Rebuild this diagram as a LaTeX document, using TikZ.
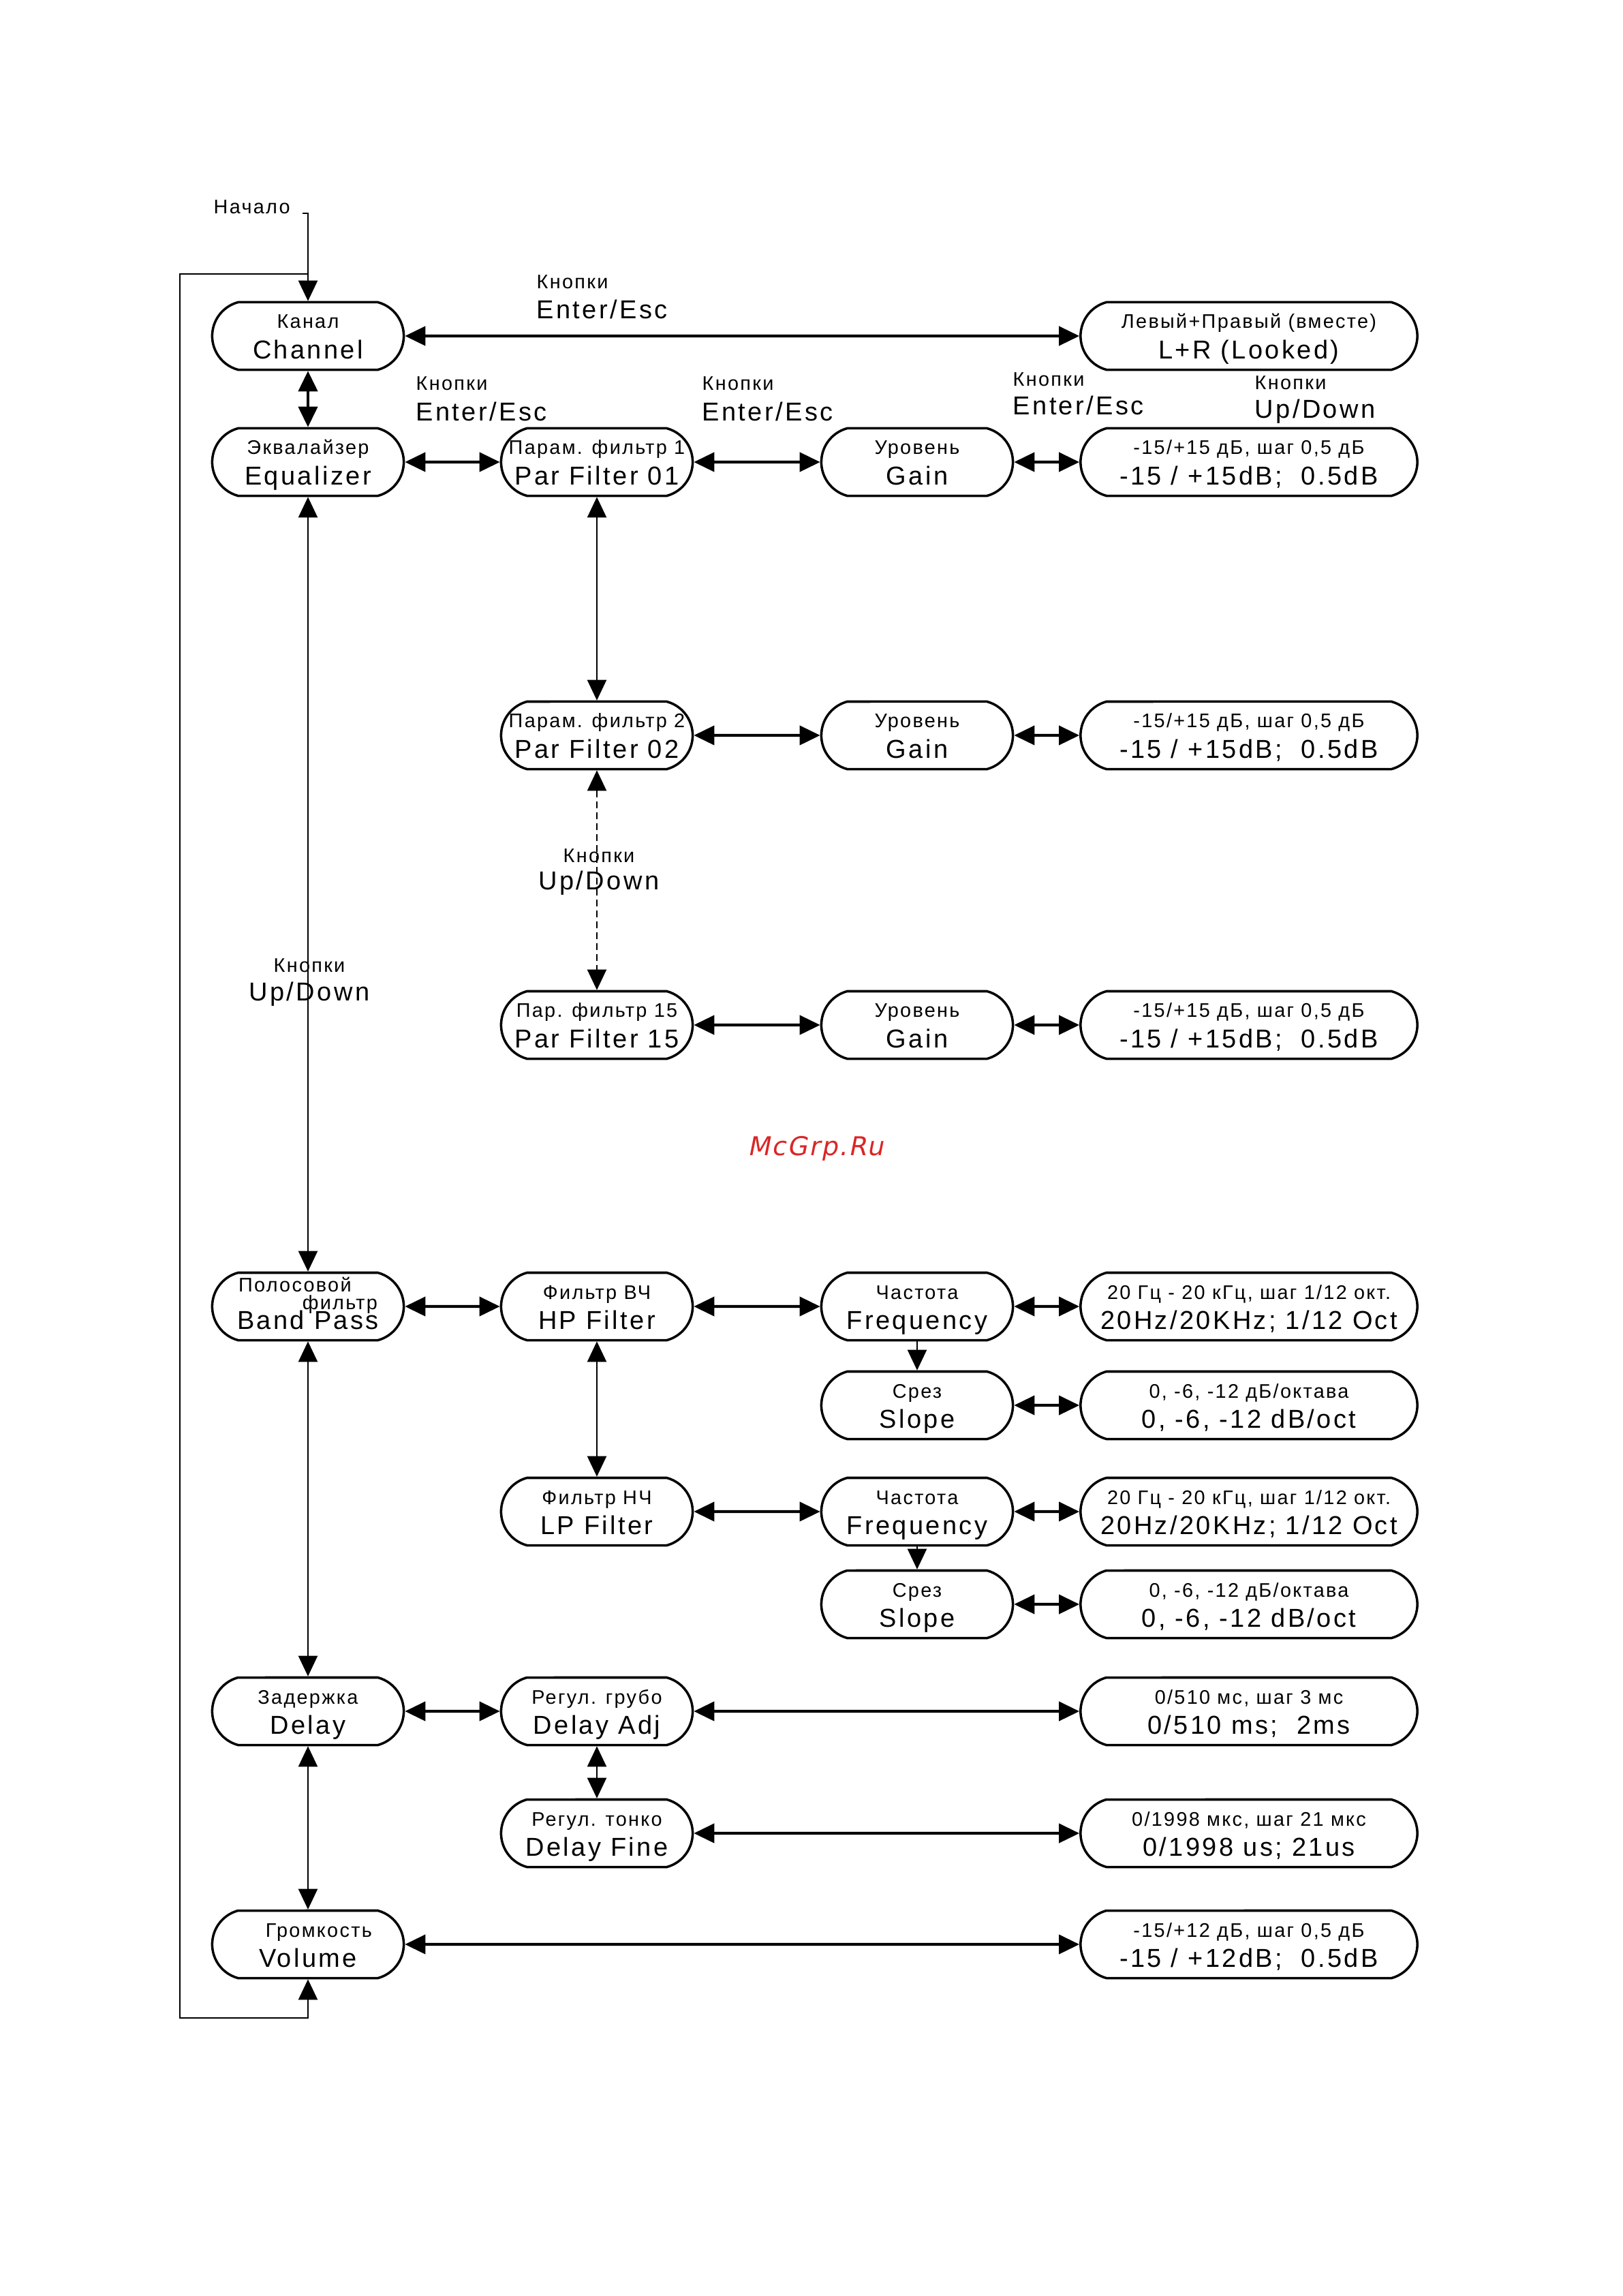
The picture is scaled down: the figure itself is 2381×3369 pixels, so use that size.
\documentclass[tikz,border=0pt]{standalone}
\usepackage{fontspec}
\setmainfont{Liberation Sans}
\newfontfamily\bigfam[LetterSpace=9]{Liberation Sans}
\newfontfamily\smfam[LetterSpace=8]{Liberation Sans}
\newfontfamily\wmfam[FakeSlant=0.2,LetterSpace=6]{DejaVu Sans}
\usetikzlibrary{arrows.meta,shapes.misc}
\definecolor{wmred}{RGB}{218,38,38}
\newcommand\bigf{\bigfam\fontsize{10.8pt}{12.5pt}\selectfont}
\newcommand\smf{\smfam\fontsize{8.2pt}{9.5pt}\selectfont}
\newcommand\tl[2]{\vbox{\baselineskip=12.52pt\lineskiplimit=-20pt\lineskip=0pt
  \hbox to 0pt{\hss\rule{0pt}{9.25pt}\smf #1\hss}%
  \hbox to 0pt{\hss\rule[-3pt]{0pt}{3pt}\bigf #2\hss}}}
\newcommand\bpc{\vbox{\baselineskip=12.52pt\lineskiplimit=-20pt\lineskip=0pt
  \hbox to 0pt{\hss\rule{0pt}{9.25pt}\smf\makebox[58pt][l]{\smash{\raisebox{2.85pt}{Полосовой}}}\llap{\smash{\raisebox{-4.27pt}{фильтр}}}\hss}%
  \hbox to 0pt{\hss\rule[-3pt]{0pt}{3pt}\bigf Band Pass\hss}}}
\newcommand\lbL[3][12.5pt]{\vbox{\baselineskip=#1\lineskiplimit=-20pt\lineskip=0pt
  \hbox{\smf #2}\hbox{\bigf #3}}}
\newcommand\lbC[3][11.3pt]{\vbox{\baselineskip=#1\lineskiplimit=-20pt\lineskip=0pt
  \hbox to 0pt{\hss\smf #2\hss}\hbox to 0pt{\hss\bigf #3\hss}}}
\tikzset{
  nbox/.style={draw, line width=1pt, rounded rectangle, rounded rectangle arc length=150,
    minimum width=2.81cm, minimum height=0.99cm, inner sep=0pt, fill=white},
  valbox/.style={nbox, minimum width=4.94cm},
  thk/.style={line width=1.2pt},
  thn/.style={line width=0.6pt},
  lpc/.style={line width=0.7pt},
  lab/.style={inner sep=0pt},
  >={Triangle[length=0.3cm,width=0.28cm]}
}
\begin{document}
\begin{tikzpicture}[x=0.01cm,y=-0.01cm]
\path[fill=white] (0,0) rectangle (2381,3369);
\useasboundingbox (0,0) rectangle (2381,3369);

% column A
\node[nbox] (Ch)  at (452,493)  {\tl{Канал}{Channel}};
\node[nbox] (Eq)  at (452,678)  {\tl{Эквалайзер}{Equalizer}};
\node[nbox] (BP)  at (452,1917) {\bpc};
\node[nbox] (DL)  at (452,2511) {\tl{Задержка}{Delay}};
\node[nbox] (VOL) at (452,2853) {\tl{\kern9pt Громкость}{Volume}};
% column B
\node[nbox] (PF1)  at (876,678)  {\tl{Парам. фильтр 1}{Par Filter 01}};
\node[nbox] (PF2)  at (876,1079) {\tl{Парам. фильтр 2}{Par Filter 02}};
\node[nbox] (PF15) at (876,1504) {\tl{Пар. фильтр 15}{Par Filter 15}};
\node[nbox] (HP)   at (876,1917) {\tl{Фильтр ВЧ}{HP Filter}};
\node[nbox] (LP)   at (876,2218) {\tl{Фильтр НЧ}{LP Filter}};
\node[nbox] (DA)   at (876,2511) {\tl{Регул. грубо}{Delay Adj}};
\node[nbox] (DF)   at (876,2690) {\tl{Регул. тонко}{Delay Fine}};
% column C
\node[nbox] (G1)  at (1346,678)  {\tl{Уровень}{Gain}};
\node[nbox] (G2)  at (1346,1079) {\tl{Уровень}{Gain}};
\node[nbox] (G15) at (1346,1504) {\tl{Уровень}{Gain}};
\node[nbox] (F1)  at (1346,1917) {\tl{Частота}{Frequency}};
\node[nbox] (S1)  at (1346,2062) {\tl{Срез}{Slope}};
\node[nbox] (F2)  at (1346,2218) {\tl{Частота}{Frequency}};
\node[nbox] (S2)  at (1346,2354) {\tl{Срез}{Slope}};
% column D
\node[valbox] (LR)   at (1833,493)  {\tl{Левый+Правый (вместе)}{L+R (Looked)}};
\node[valbox] (V1)   at (1833,678)  {\tl{-15/+15 дБ, шаг 0,5 дБ}{-15 / +15dB; \ 0.5dB}};
\node[valbox] (V2)   at (1833,1079) {\tl{-15/+15 дБ, шаг 0,5 дБ}{-15 / +15dB; \ 0.5dB}};
\node[valbox] (V15)  at (1833,1504) {\tl{-15/+15 дБ, шаг 0,5 дБ}{-15 / +15dB; \ 0.5dB}};
\node[valbox] (VF1)  at (1833,1917) {\tl{20 Гц - 20 кГц, шаг 1/12 окт.}{20Hz/20KHz; 1/12 Oct}};
\node[valbox] (VS1)  at (1833,2062) {\tl{0, -6, -12 дБ/октава}{0, -6, -12 dB/oct}};
\node[valbox] (VF2)  at (1833,2218) {\tl{20 Гц - 20 кГц, шаг 1/12 окт.}{20Hz/20KHz; 1/12 Oct}};
\node[valbox] (VS2)  at (1833,2354) {\tl{0, -6, -12 дБ/октава}{0, -6, -12 dB/oct}};
\node[valbox] (VDA)  at (1833,2511) {\tl{0/510 мс, шаг 3 мс}{0/510 ms; \ 2ms}};
\node[valbox] (VDF)  at (1833,2690) {\tl{0/1998 мкс, шаг 21 мкс}{0/1998 us; 21us}};
\node[valbox] (VVOL) at (1833,2853) {\tl{-15/+12 дБ, шаг 0,5 дБ}{-15 / +12dB; \ 0.5dB}};

% labels
\node[lab, anchor=base west] (nach) at (313,313) {\smf Начало};
\node[lab, anchor=base west] (k1) at (787,467)  {\lbL[12.4pt]{Кнопки}{Enter/Esc}};
\node[lab, anchor=base west] (k2) at (610,617)  {\lbL[12.6pt]{Кнопки}{Enter/Esc}};
\node[lab, anchor=base west] (k3) at (1030,617) {\lbL[12.6pt]{Кнопки}{Enter/Esc}};
\node[lab, anchor=base west] (k4) at (1486,608) {\lbL[11.7pt]{Кнопки}{Enter/Esc}};
\node[lab, anchor=base west] (k5) at (1841,613) {\lbL[11.7pt]{Кнопки}{Up/Down}};
\node[lab, anchor=base] (k6) at (879,1305) {\lbC[11.1pt]{Кнопки}{Up/Down}};
\node[lab, anchor=base] (k7) at (454,1468) {\lbC[11.7pt]{Кнопки}{Up/Down}};
\node[text=wmred, inner sep=0pt, font=\wmfam\fontsize{10.8pt}{12pt}\selectfont] (wm) at (1197,1685) {McGrp.Ru};

% start and loop
\coordinate (st0) at (444,313);
\coordinate (st1) at (452,313);
\coordinate (lpj) at (452,402);
\coordinate (lpTL) at (264,402);
\coordinate (lpBL) at (264,2961);
\coordinate (lpBR) at (452,2961);
\draw[lpc,->] (st0) -- (st1) -- (Ch);
\draw[lpc,->] (lpj) -- (lpTL) -- (lpBL) -- (lpBR) -- (VOL);

% connectors
\draw[thk,<->] (Ch) -- (LR);
\draw[thk,<->] (Ch) -- (Eq);
\draw[thk,<->] (Eq) -- (PF1);
\draw[thk,<->] (PF1) -- (G1);
\draw[thk,<->] (G1) -- (V1);
\draw[thn,<->] (PF1) -- (PF2);
\draw[thn,<->,dash pattern=on 0.1cm off 0.06cm] (PF2) -- (PF15);
\draw[thk,<->] (PF2) -- (G2);
\draw[thk,<->] (G2) -- (V2);
\draw[thk,<->] (PF15) -- (G15);
\draw[thk,<->] (G15) -- (V15);
\draw[thn,<->] (Eq) -- (BP);
\draw[thk,<->] (BP) -- (HP);
\draw[thk,<->] (HP) -- (F1);
\draw[thk,<->] (F1) -- (VF1);
\draw[thn,->] (F1) -- (S1);
\draw[thk,<->] (S1) -- (VS1);
\draw[thn,<->] (HP) -- (LP);
\draw[thk,<->] (LP) -- (F2);
\draw[thk,<->] (F2) -- (VF2);
\draw[thn,->] (F2) -- (S2);
\draw[thk,<->] (S2) -- (VS2);
\draw[thn,<->] (BP) -- (DL);
\draw[thk,<->] (DL) -- (DA);
\draw[thk,<->] (DA) -- (VDA);
\draw[thn,<->] (DA) -- (DF);
\draw[thk,<->] (DF) -- (VDF);
\draw[thn,<->] (DL) -- (VOL);
\draw[thk,<->] (VOL) -- (VVOL);
\end{tikzpicture}
\end{document}
